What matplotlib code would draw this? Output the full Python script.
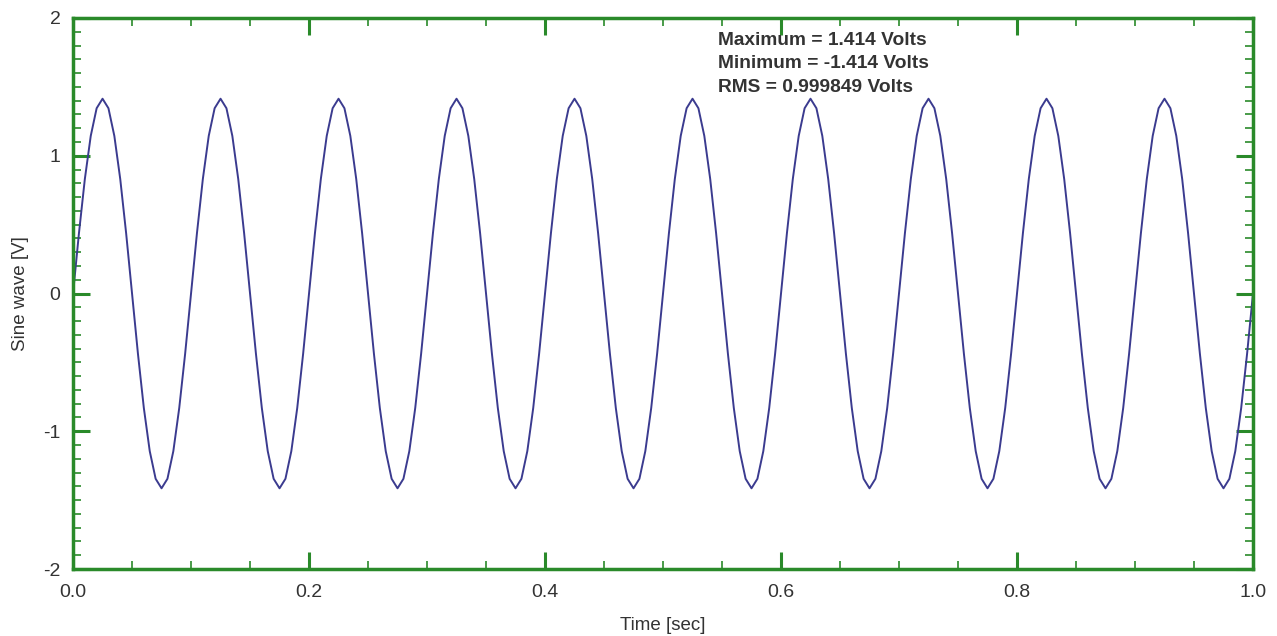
import numpy as np
import matplotlib
matplotlib.use("Agg")
import matplotlib.pyplot as plt
from matplotlib.ticker import MultipleLocator, FormatStrFormatter

plt.rcParams['font.family'] = ['Liberation Sans', 'DejaVu Sans']

# one cycle of the wave (20 samples per cycle, 10 cycles in 1 s)
cycle_volts = [0.000, 0.437, 0.831, 1.144, 1.345, 1.414, 1.345, 1.144, 0.831, 0.437,
               0.000, -0.437, -0.831, -1.144, -1.345, -1.414, -1.345, -1.144, -0.831, -0.437]
n_cycles = 10
sample_step = 0.005  # sec

volts = list(cycle_volts) * n_cycles + [cycle_volts[0]]
time_s = [i * sample_step for i in range(len(volts))]

info_lines = ["Maximum = 1.414 Volts", "Minimum = -1.414 Volts", "RMS = 0.999849 Volts"]

green = "#2a8a2a"
text_col = "#333333"

fig = plt.figure(figsize=(12.77, 6.36), dpi=100)
ax = fig.add_axes([0.0572, 0.1053, 0.9240, 0.8664])

ax.plot(time_s, volts, color="#3b3b8f", lw=1.4)

ax.set_xlim(0, 1)
ax.set_ylim(-2, 2)
ax.xaxis.set_major_locator(MultipleLocator(0.2))
ax.xaxis.set_minor_locator(MultipleLocator(0.05))
ax.yaxis.set_major_locator(MultipleLocator(1))
ax.yaxis.set_minor_locator(MultipleLocator(0.1))
ax.xaxis.set_major_formatter(FormatStrFormatter("%.1f"))
ax.yaxis.set_major_formatter(FormatStrFormatter("%d"))

for s in ax.spines.values():
    s.set_color(green)
    s.set_linewidth(2.5)

ax.tick_params(which="both", direction="in", top=True, right=True, color=green,
               labelcolor=text_col, labelsize=14)
ax.tick_params(which="major", length=12, width=2.2)
ax.tick_params(which="minor", length=5.5, width=1.2)
ax.tick_params(axis="x", which="major", pad=11)
ax.tick_params(axis="y", which="major", pad=9)

ax.set_xlabel("Time [sec]", fontsize=13.5, color=text_col, labelpad=11)
ax.set_ylabel("Sine wave [V]", fontsize=13.5, color=text_col, labelpad=10)

for i, line in enumerate(info_lines):
    ax.text(0.547, 0.96 - i * 0.043, line, transform=ax.transAxes, fontsize=13.8,
            fontweight="bold", color=text_col, va="center")

fig.savefig("out.png", dpi=100)
